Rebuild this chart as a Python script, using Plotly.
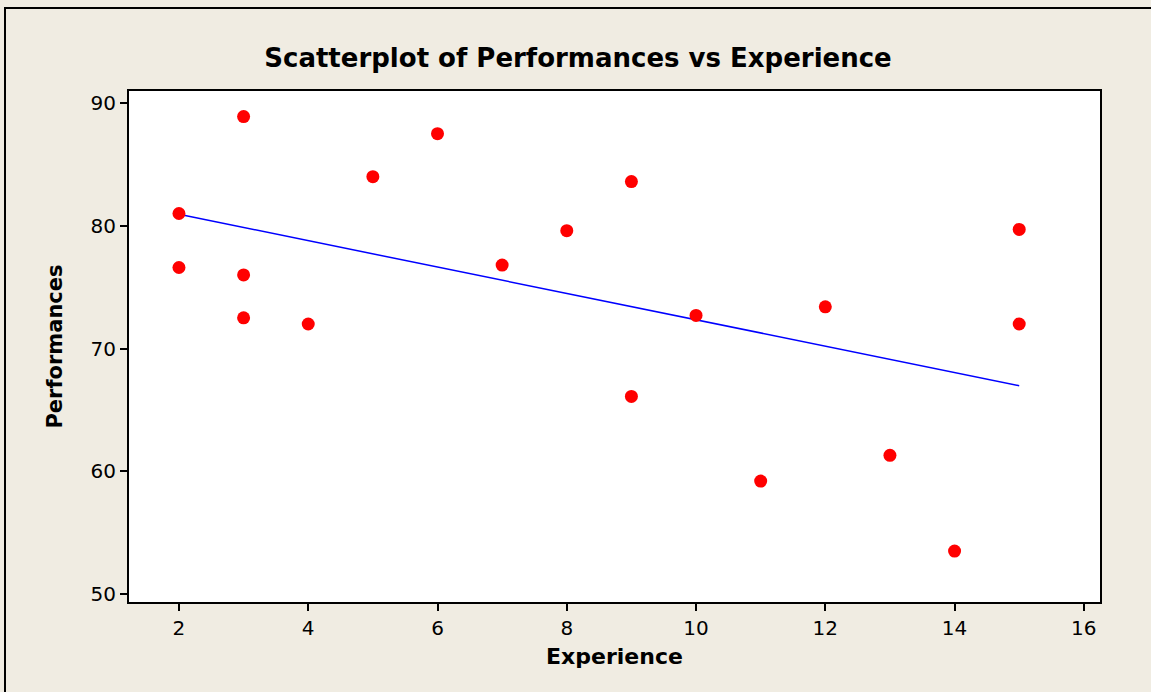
import numpy as np
import plotly.graph_objects as go

experience = [2, 2, 3, 3, 3, 4, 5, 6, 7, 8, 9, 9, 10, 11, 12, 13, 14, 15, 15]
performances = [81.0, 76.6, 88.9, 76.0, 72.5, 72.0, 84.0, 87.5, 76.8, 79.6,
                83.6, 66.1, 72.7, 59.2, 73.4, 61.3, 53.5, 79.7, 72.0]
x_ticks = [2, 4, 6, 8, 10, 12, 14, 16]
y_ticks = [50, 60, 70, 80, 90]

slope, intercept = np.polyfit(experience, performances, 1)
fit_x = [min(experience), max(experience)]
fit_y = [intercept + slope * v for v in fit_x]

BG = "#F0ECE2"
FONT = "DejaVu Sans"

fig = go.Figure()
fig.add_trace(go.Scatter(x=fit_x, y=fit_y, mode="lines",
                         line=dict(color="#0000FF", width=1.5),
                         hoverinfo="skip", showlegend=False))
fig.add_trace(go.Scatter(x=experience, y=performances, mode="markers",
                         marker=dict(color="#FF0000", size=13, line=dict(width=0)),
                         showlegend=False))

axis_common = dict(showgrid=False, zeroline=False, showline=True, linecolor="black",
                   linewidth=2, mirror=True, ticks="outside", ticklen=7, tickwidth=2,
                   tickcolor="black", tickfont=dict(family=FONT, size=20, color="black"))

fig.update_layout(
    width=1151, height=692,
    margin=dict(l=129, r=51, t=91, b=90),
    paper_bgcolor=BG, plot_bgcolor="white",
    title=dict(text="<b>Scatterplot of Performances vs Experience</b>",
               x=(260 + 896) / 2 / 1151, xanchor="center", y=1 - 58 / 692, yanchor="middle",
               font=dict(family=FONT, size=26, color="black")),
    xaxis=dict(range=[1.227, 16.25], tickvals=x_ticks,
               title=dict(text="<b>Experience</b>", font=dict(family=FONT, size=22, color="black"),
                          standoff=10),
               **axis_common),
    yaxis=dict(range=[49.35, 90.98], tickvals=y_ticks,
               title=dict(text="<b>Performances</b>", font=dict(family=FONT, size=21, color="black"),
                          standoff=22),
               **axis_common),
    shapes=[dict(type="rect", xref="paper", yref="paper",
                 x0=(5 - 129) / 971, x1=1.2, y0=-0.4, y1=1 + (91 - 8) / 511,
                 line=dict(color="black", width=2), fillcolor="rgba(0,0,0,0)", layer="below")],
)

fig.write_html("out.html", config={"displayModeBar": False},
               post_script="document.body.style.margin='0';document.body.style.overflow='hidden';")
